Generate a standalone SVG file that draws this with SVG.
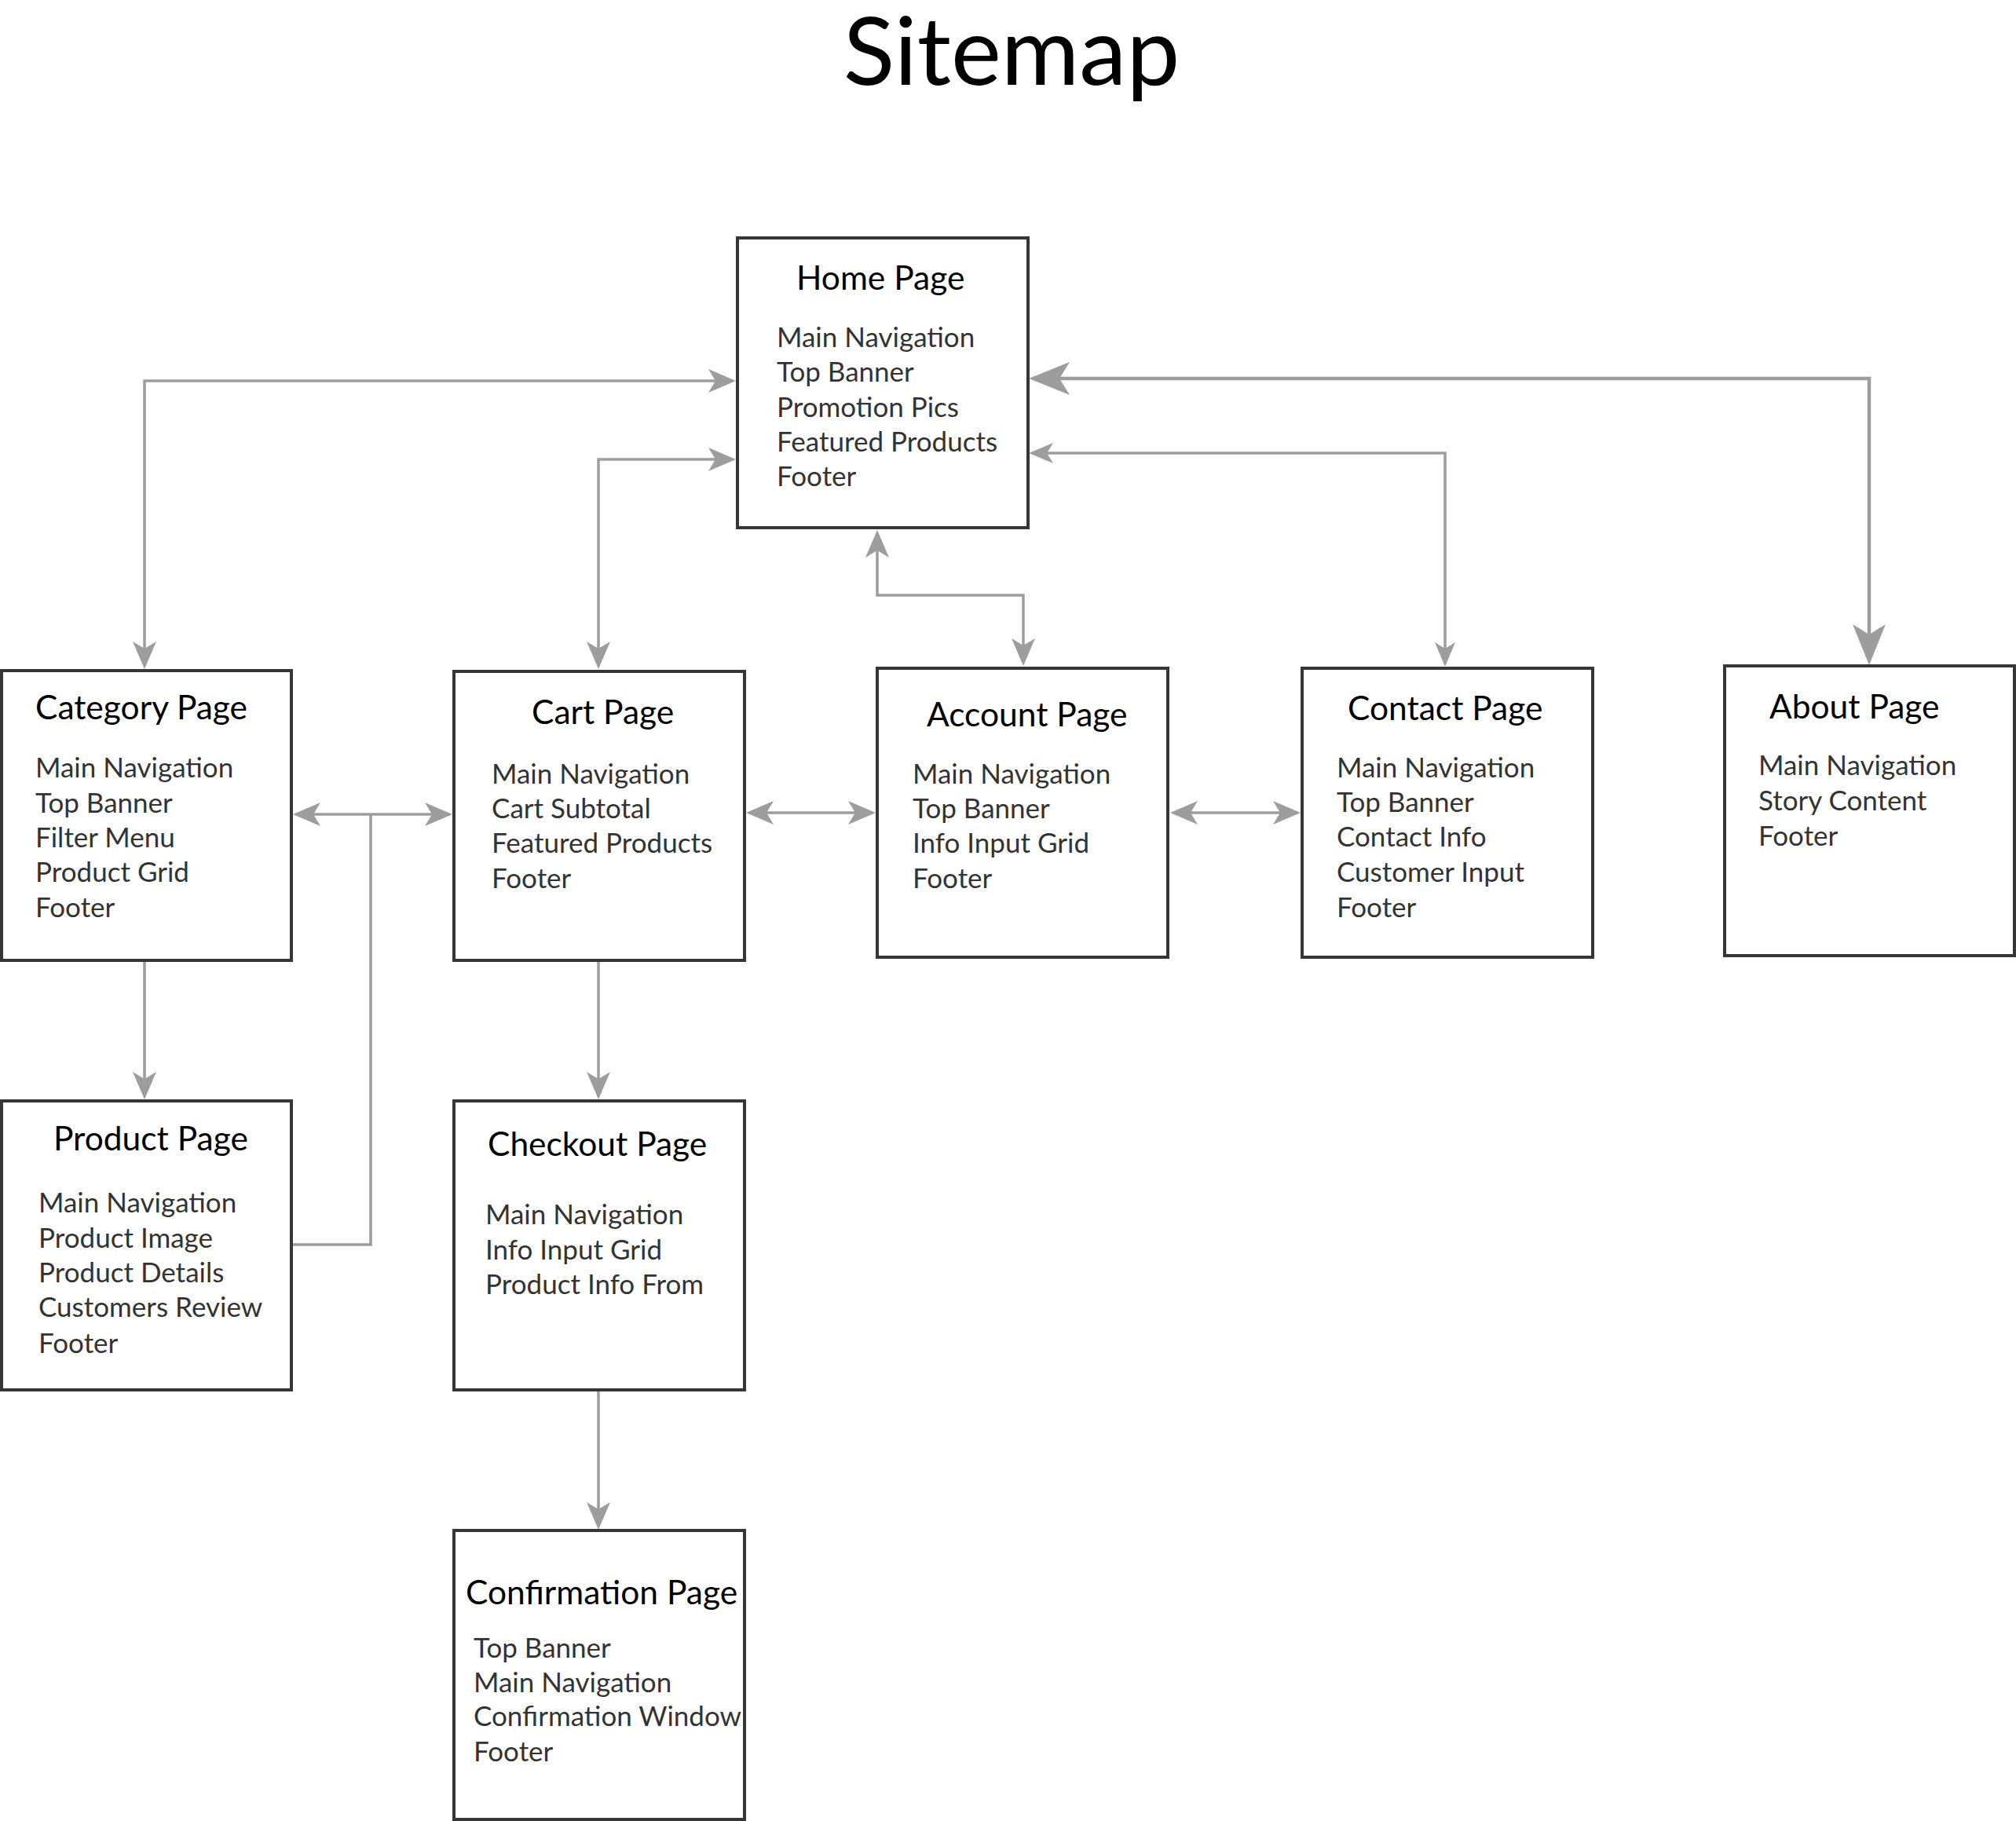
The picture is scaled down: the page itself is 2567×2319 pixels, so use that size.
<svg xmlns="http://www.w3.org/2000/svg" width="2567" height="2319" viewBox="0 0 2567 2319">
<defs>
<style>
.box{fill:#fff;stroke:#363636;stroke-width:4}
.t{font-family:Lato,"Open Sans","Liberation Sans",sans-serif;font-size:42.5px;fill:#000}
.b{font-family:Lato,"Open Sans","Liberation Sans",sans-serif;font-size:35px;fill:#333}
.h{font-family:Lato,"Open Sans","Liberation Sans",sans-serif;font-size:121px;fill:#000}
.c{fill:none;stroke:#9d9d9d;stroke-width:3.5}
.cl{fill:none;stroke:#9d9d9d;stroke-width:4.5}
</style>
<marker id="arr" viewBox="0 0 35 30" refX="31" refY="15" markerWidth="35" markerHeight="30" markerUnits="userSpaceOnUse" orient="auto-start-reverse"><path d="M35,15 L0,0 L9,15 L0,30 Z" fill="#9d9d9d"/></marker>
<marker id="arrS" viewBox="0 0 31 26" refX="27" refY="13" markerWidth="31" markerHeight="26" markerUnits="userSpaceOnUse" orient="auto-start-reverse"><path d="M31,13 L0,0 L8,13 L0,26 Z" fill="#9d9d9d"/></marker>
<marker id="arrL" viewBox="0 0 52 42" refX="47" refY="21" markerWidth="52" markerHeight="42" markerUnits="userSpaceOnUse" orient="auto-start-reverse"><path d="M52,21 L0,0 L13,21 L0,42 Z" fill="#9d9d9d"/></marker>
</defs>
<rect width="2567" height="2319" fill="#fff"/>
<text class="h" x="1288" y="108" text-anchor="middle">Sitemap</text>

<g id="connectors">
<path class="c" d="M933,485 H184 V848" marker-start="url(#arr)" marker-end="url(#arr)"/>
<path class="c" d="M933,585 H762 V848" marker-start="url(#arr)" marker-end="url(#arr)"/>
<path class="c" d="M1117,679 V758 H1303 V844" marker-start="url(#arr)" marker-end="url(#arr)"/>
<path class="c" d="M1314,577 H1840 V845" marker-start="url(#arrS)" marker-end="url(#arrS)"/>
<path class="cl" d="M1315,482 H2380 V842" marker-start="url(#arrL)" marker-end="url(#arrL)"/>
<path class="c" d="M377,1037 H572" marker-start="url(#arr)" marker-end="url(#arr)"/>
<path class="c" d="M371,1585 H472 V1037"/>
<path class="c" d="M954,1035 H1111" marker-start="url(#arr)" marker-end="url(#arr)"/>
<path class="c" d="M1494,1035 H1652" marker-start="url(#arr)" marker-end="url(#arr)"/>
<path class="c" d="M184,1225 V1396" marker-end="url(#arr)"/>
<path class="c" d="M762,1225 V1396" marker-end="url(#arr)"/>
<path class="c" d="M762,1772 V1944" marker-end="url(#arr)"/>
</g>

<g id="home">
<rect class="box" x="939" y="303" width="370" height="369"/>
<text class="t" x="1014" y="369">Home Page</text>
<text class="b" x="989" y="442">Main Navigation</text>
<text class="b" x="989" y="486">Top Banner</text>
<text class="b" x="989" y="531">Promotion Pics</text>
<text class="b" x="989" y="575">Featured Products</text>
<text class="b" x="989" y="619">Footer</text>
</g>

<g id="category">
<rect class="box" x="2" y="854" width="369" height="369"/>
<text class="t" x="45" y="916">Category Page</text>
<text class="b" x="45" y="990">Main Navigation</text>
<text class="b" x="45" y="1035">Top Banner</text>
<text class="b" x="45" y="1079">Filter Menu</text>
<text class="b" x="45" y="1123">Product Grid</text>
<text class="b" x="45" y="1168">Footer</text>
</g>

<g id="cart">
<rect class="box" x="578" y="855" width="370" height="368"/>
<text class="t" x="677" y="922">Cart Page</text>
<text class="b" x="626" y="998">Main Navigation</text>
<text class="b" x="626" y="1042">Cart Subtotal</text>
<text class="b" x="626" y="1086">Featured Products</text>
<text class="b" x="626" y="1131">Footer</text>
</g>

<g id="account">
<rect class="box" x="1117" y="851" width="370" height="368"/>
<text class="t" x="1180" y="925">Account Page</text>
<text class="b" x="1162" y="998">Main Navigation</text>
<text class="b" x="1162" y="1042">Top Banner</text>
<text class="b" x="1162" y="1086">Info Input Grid</text>
<text class="b" x="1162" y="1131">Footer</text>
</g>

<g id="contact">
<rect class="box" x="1658" y="851" width="370" height="368"/>
<text class="t" x="1716" y="917">Contact Page</text>
<text class="b" x="1702" y="990">Main Navigation</text>
<text class="b" x="1702" y="1034">Top Banner</text>
<text class="b" x="1702" y="1078">Contact Info</text>
<text class="b" x="1702" y="1123">Customer Input</text>
<text class="b" x="1702" y="1168">Footer</text>
</g>

<g id="about">
<rect class="box" x="2196" y="848" width="369" height="369"/>
<text class="t" x="2253" y="915">About Page</text>
<text class="b" x="2239" y="987">Main Navigation</text>
<text class="b" x="2239" y="1032">Story Content</text>
<text class="b" x="2239" y="1077">Footer</text>
</g>

<g id="product">
<rect class="box" x="2" y="1402" width="369" height="368"/>
<text class="t" x="68" y="1465">Product Page</text>
<text class="b" x="49" y="1544">Main Navigation</text>
<text class="b" x="49" y="1589">Product Image</text>
<text class="b" x="49" y="1633">Product Details</text>
<text class="b" x="49" y="1677">Customers Review</text>
<text class="b" x="49" y="1723">Footer</text>
</g>

<g id="checkout">
<rect class="box" x="578" y="1402" width="370" height="368"/>
<text class="t" x="621" y="1472">Checkout Page</text>
<text class="b" x="618" y="1559">Main Navigation</text>
<text class="b" x="618" y="1604">Info Input Grid</text>
<text class="b" x="618" y="1648">Product Info From</text>
</g>

<g id="confirmation">
<rect class="box" x="578" y="1949" width="370" height="368"/>
<text class="t" x="593" y="2043">Confirmation Page</text>
<text class="b" x="603" y="2111">Top Banner</text>
<text class="b" x="603" y="2155">Main Navigation</text>
<text class="b" x="603" y="2198">Confirmation Window</text>
<text class="b" x="603" y="2243">Footer</text>
</g>
</svg>
